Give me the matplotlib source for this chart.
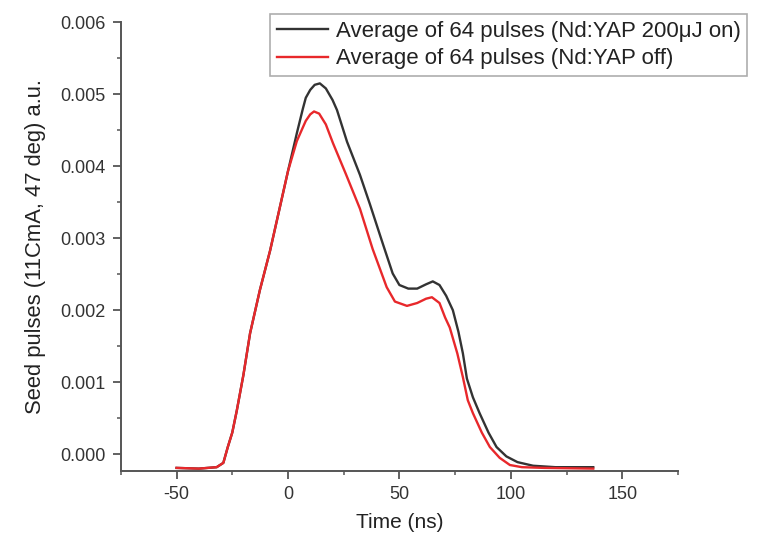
import matplotlib
matplotlib.use("Agg")
from matplotlib import pyplot as plt
from matplotlib.ticker import MultipleLocator, FormatStrFormatter

plt.rcParams['font.family'] = ['Liberation Sans', 'DejaVu Sans']

# pulse with Nd:YAP on (black)
t_on = [-50, -40, -32, -29, -27, -25, -23, -20, -17, -12.6, -8, -4, 0, 4, 6.7, 8, 10, 12, 14.3,
        17, 20, 22, 26.5, 32.3, 36.8, 42.6, 47, 50, 54, 58, 62, 65, 68, 71, 74, 76.5, 78.5,
        80.3, 83, 86, 90, 93.6, 98, 103, 110, 120, 137]
v_on = [-0.00019, -0.0002, -0.00018, -0.00012, 0.0001, 0.0003, 0.0006, 0.0011, 0.00168,
        0.00228, 0.00283, 0.00338, 0.00393, 0.00446, 0.0048, 0.00495, 0.00506, 0.00513, 0.00515,
        0.00508, 0.00492, 0.00478, 0.00434, 0.00388, 0.00347, 0.00292, 0.00251, 0.00235,
        0.0023, 0.0023, 0.00236, 0.0024, 0.00235, 0.0022, 0.002, 0.0017, 0.0014,
        0.00105, 0.00079, 0.00057, 0.0003, 0.0001, -0.00003, -0.00011, -0.00016, -0.00018, -0.00018]

# pulse with Nd:YAP off (red)
t_off = [-50, -40, -32, -29, -27, -25, -23, -20, -17, -12.6, -8, -4, 0, 4, 6.7, 8, 10, 11.7,
         14, 17, 20.2, 26, 32.3, 38, 44.3, 48, 53.4, 58, 62, 64.6, 68, 70.5, 72.6, 76, 78.5,
         80.7, 83, 87, 90.6, 95, 99.6, 105, 115, 137]
v_off = [-0.00019, -0.0002, -0.00018, -0.00012, 0.0001, 0.0003, 0.0006, 0.0011, 0.00168,
         0.00228, 0.00283, 0.00338, 0.00393, 0.00435, 0.00454, 0.00463, 0.00472, 0.00476,
         0.00473, 0.00458, 0.00432, 0.00389, 0.00341, 0.00285, 0.00232, 0.00212, 0.00206,
         0.0021, 0.00216, 0.00218, 0.0021, 0.0019, 0.00176, 0.0014, 0.00107,
         0.00075, 0.00057, 0.0003, 0.0001, -0.00005, -0.00015, -0.00018, -0.00019, -0.0002]

fig = plt.figure(figsize=(7.6, 5.41), dpi=100)
ax = fig.add_axes([0.159, 0.129, 0.733, 0.830])

ax.plot(t_on, v_on, color='#333333', lw=1.7, label='Average of 64 pulses (Nd:YAP 200\u03bcJ on)')
ax.plot(t_off, v_off, color='#e8282b', lw=1.7, label='Average of 64 pulses (Nd:YAP off)')

ax.set_xlim(-75, 175)
ax.set_ylim(-0.000236, 0.006)
ax.xaxis.set_major_locator(MultipleLocator(50))
ax.xaxis.set_minor_locator(MultipleLocator(25))
ax.yaxis.set_major_locator(MultipleLocator(0.001))
ax.yaxis.set_minor_locator(MultipleLocator(0.0005))
ax.yaxis.set_major_formatter(FormatStrFormatter('%.3f'))
ax.xaxis.set_major_formatter(FormatStrFormatter('%d'))

for s in ['top', 'right']:
    ax.spines[s].set_visible(False)
for s in ['left', 'bottom']:
    ax.spines[s].set_color('#555555')
    ax.spines[s].set_linewidth(1.4)
ax.tick_params(which='major', length=6, width=1.3, color='#555555', labelsize=13,
               labelcolor='#333333', pad=5)
ax.tick_params(which='minor', length=3, width=1.1, color='#555555')

ax.set_xlabel('Time (ns)', fontsize=15, color='#222222', labelpad=7)
ax.set_ylabel('Seed pulses (11CmA, 47 deg) a.u.', fontsize=15.8, color='#222222', labelpad=10)

leg = ax.legend(loc='upper left', bbox_to_anchor=(270 / 760, 1 - 14 / 541),
                bbox_transform=fig.transFigure, fontsize=16, frameon=True, fancybox=False,
                handlelength=2.3, handletextpad=0.35, borderpad=0.3, labelspacing=0.3,
                borderaxespad=0)
leg.get_frame().set_edgecolor('#999999')
leg.get_frame().set_linewidth(1.2)
for txt in leg.get_texts():
    txt.set_color('#222222')

fig.savefig('out.png', dpi=100)
